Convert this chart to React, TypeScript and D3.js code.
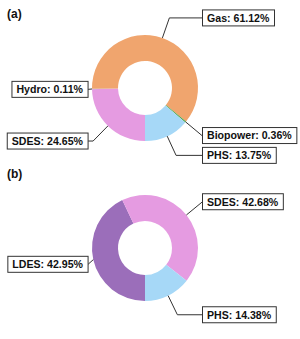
import React, { useEffect, useRef } from 'react';
import * as d3 from 'd3';

// panel (a)
const aLabels = ['SDES', 'Hydro', 'Gas', 'Biopower', 'PHS'];
const aValues = [24.65, 0.11, 61.12, 0.36, 13.75];
const aColors = ['#E59BE1', '#8FA3C4', '#F0A56E', '#4FA64B', '#A6D8F7'];

// panel (b)
const bLabels = ['LDES', 'SDES', 'PHS'];
const bValues = [42.95, 42.68, 14.38];
const bColors = ['#9B6EBA', '#E59BE1', '#A6D8F7'];

const W = 300;
const H = 339;

const App = () => {
    const svgRef = useRef<SVGSVGElement>(null);

    useEffect(() => {
        const svg = d3.select(svgRef.current);
        svg.selectAll('*').remove();

        const outerR = 53;
        const innerR = 27;

        const drawDonut = (tag, cx, cy, labels, values, colors) => {
            const g = svg.append('g').attr('transform', `translate(${cx},${cy})`);

            const pie = d3.pie<number>()
                .sort(null)
                .startAngle(Math.PI)
                .endAngle(3 * Math.PI);
            const arcs = pie(values);
            const arc = d3.arc<any>().innerRadius(innerR).outerRadius(outerR);

            g.selectAll('path.slice')
                .data(arcs)
                .enter()
                .append('path')
                .attr('class', 'slice')
                .attr('d', arc)
                .attr('fill', (d, i) => colors[i]);

            // annotations
            arcs.forEach((d, i) => {
                const mid = (d.startAngle + d.endAngle) / 2;
                const ux = Math.sin(mid);
                const uy = -Math.cos(mid);
                const px = ux * outerR;
                const py = uy * outerR;
                const ty = 1.4 * py;
                const ex = 1.4 * px;
                const side = ux >= 0 ? 1 : -1;
                const tx = side * 62;

                const text = g.append('text')
                    .attr('x', tx)
                    .attr('y', ty)
                    .attr('dy', '0.36em')
                    .attr('text-anchor', side > 0 ? 'start' : 'end')
                    .attr('font-family', 'Liberation Sans, Arial, sans-serif')
                    .attr('font-weight', 'bold')
                    .attr('font-size', 10.6)
                    .attr('fill', '#111')
                    .text(`${labels[i]}: ${values[i].toFixed(2)}%`);

                const bb = (text.node() as SVGTextElement).getBBox();
                const padX = 4.5;
                const boxX = bb.x - padX;
                const boxW = bb.width + padX * 2;
                const boxH = 16;
                const boxY = ty - boxH / 2;
                const edge = side > 0 ? boxX : boxX + boxW;

                // leader: horizontal from box to elbow, then radial to wedge
                let pts;
                if ((side > 0 && ex < edge) || (side < 0 && ex > edge)) {
                    pts = [[edge, ty], [ex, ty], [px, py]];
                } else {
                    pts = [[edge, ty], [px, py]];
                }
                g.insert('path', 'text')
                    .attr('d', d3.line()(pts as [number, number][]))
                    .attr('fill', 'none')
                    .attr('stroke', '#333')
                    .attr('stroke-width', 1);

                g.insert('rect', 'text')
                    .attr('x', boxX)
                    .attr('y', boxY)
                    .attr('width', boxW)
                    .attr('height', boxH)
                    .attr('fill', '#fff')
                    .attr('stroke', '#333')
                    .attr('stroke-width', 1);
            });

            svg.append('text')
                .attr('x', 7)
                .attr('y', cy - 70)
                .attr('font-family', 'Liberation Sans, Arial, sans-serif')
                .attr('font-weight', 'bold')
                .attr('font-size', 12)
                .attr('fill', '#111')
                .text(tag);
        };

        drawDonut('(a)', 145, 88, aLabels, aValues, aColors);
        drawDonut('(b)', 145, 248, bLabels, bValues, bColors);
    }, []);

    return (
        <svg
            ref={svgRef}
            width={W}
            height={H}
            style={{ position: 'absolute', left: 0, top: 0, background: '#fff' }}
        />
    );
};

export default App;
